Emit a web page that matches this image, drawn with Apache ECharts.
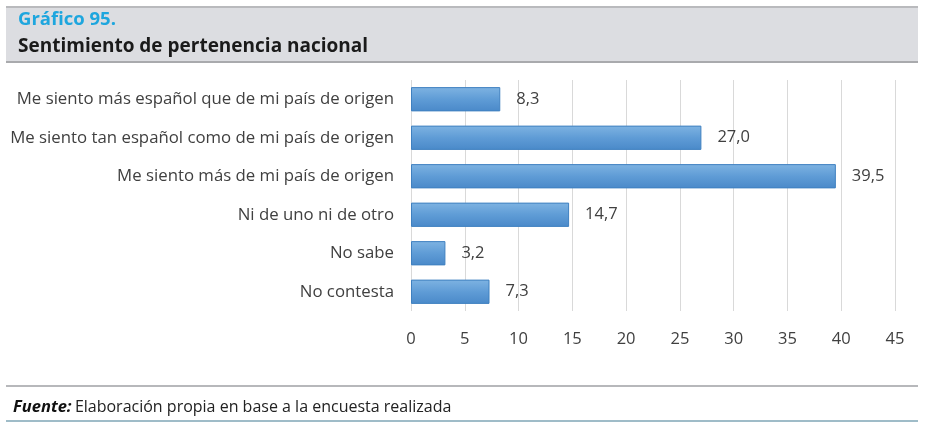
<!DOCTYPE html>
<html><head><meta charset="utf-8">
<script src="https://cdn.jsdelivr.net/npm/echarts@6/dist/echarts.min.js"></script>
<style>html,body{margin:0;padding:0;background:#fff}#c{width:929px;height:433px}</style>
</head><body><div id="c"></div>
<script>
const categories = [
  'Me siento más español que de mi país de origen',
  'Me siento tan español como de mi país de origen',
  'Me siento más de mi país de origen',
  'Ni de uno ni de otro',
  'No sabe',
  'No contesta'
];
const values = [8.3, 27.0, 39.5, 14.7, 3.2, 7.3];
const xTicks = [0, 5, 10, 15, 20, 25, 30, 35, 40, 45];

const chart = echarts.init(document.getElementById('c'));
chart.setOption({
  animation: false,
  backgroundColor: '#fff',
  graphic: [
    { type: 'rect', shape: { x: 6, y: 7, width: 912, height: 55 }, style: { fill: '#dcdde1' }, z: 0 },
    { type: 'rect', shape: { x: 6, y: 6, width: 912, height: 2 }, style: { fill: '#b9babd' }, z: 1 },
    { type: 'rect', shape: { x: 6, y: 61, width: 912, height: 2 }, style: { fill: '#a9aaad' }, z: 1 },
    { type: 'text', left: 18, top: 10, style: { text: 'Gráfico 95.', fill: '#1ea6de', font: 'bold 18.5px "Open Sans", sans-serif' }, z: 2 },
    { type: 'text', left: 18, top: 37, style: { text: 'Sentimiento de pertenencia nacional', fill: '#1a1a1a', font: 'bold 19px "Open Sans", sans-serif' }, z: 2 },
    { type: 'rect', shape: { x: 6, y: 385, width: 912, height: 2 }, style: { fill: '#b7b8bb' }, z: 1 },
    { type: 'rect', shape: { x: 6, y: 420, width: 912, height: 2 }, style: { fill: '#9fbcc8' }, z: 1 },
    { type: 'text', left: 13, top: 399, style: {
        rich: {
          b: { font: 'italic bold 16.5px "Open Sans", sans-serif', fill: '#111' },
          n: { font: '16px "Open Sans", sans-serif', fill: '#222' }
        },
        text: '{b|Fuente:} {n|Elaboración propia en base a la encuesta realizada}'
      }, z: 2 }
  ],
  grid: { left: 411, right: 34, top: 80, bottom: 122, containLabel: false },
  xAxis: {
    type: 'value', min: 0, max: 45, interval: 5,
    axisLine: { show: false }, axisTick: { show: false },
    splitLine: { show: true, lineStyle: { color: '#d9d9d9', width: 1 } },
    axisLabel: { color: '#404040', fontSize: 16.5, fontFamily: '"Open Sans", sans-serif', margin: 20 }
  },
  yAxis: {
    type: 'category', data: categories, inverse: true,
    axisLine: { show: false }, axisTick: { show: false },
    axisLabel: { color: '#404040', fontSize: 16.8, fontFamily: '"Open Sans", sans-serif', margin: 17 }
  },
  series: [{
    type: 'bar', data: values, barCategoryGap: '37%',
    itemStyle: {
      color: new echarts.graphic.LinearGradient(0, 0, 0, 1, [
        { offset: 0, color: '#7eb3e2' },
        { offset: 0.5, color: '#5f9cd6' },
        { offset: 1, color: '#4a89c9' }
      ]),
      borderColor: '#3f80c0', borderWidth: 1
    },
    label: {
      show: true, position: 'right', distance: 16, color: '#404040', fontSize: 16.5,
      fontFamily: '"Open Sans", sans-serif',
      formatter: p => p.value.toFixed(1).replace('.', ',')
    }
  }]
});
</script></body></html>
